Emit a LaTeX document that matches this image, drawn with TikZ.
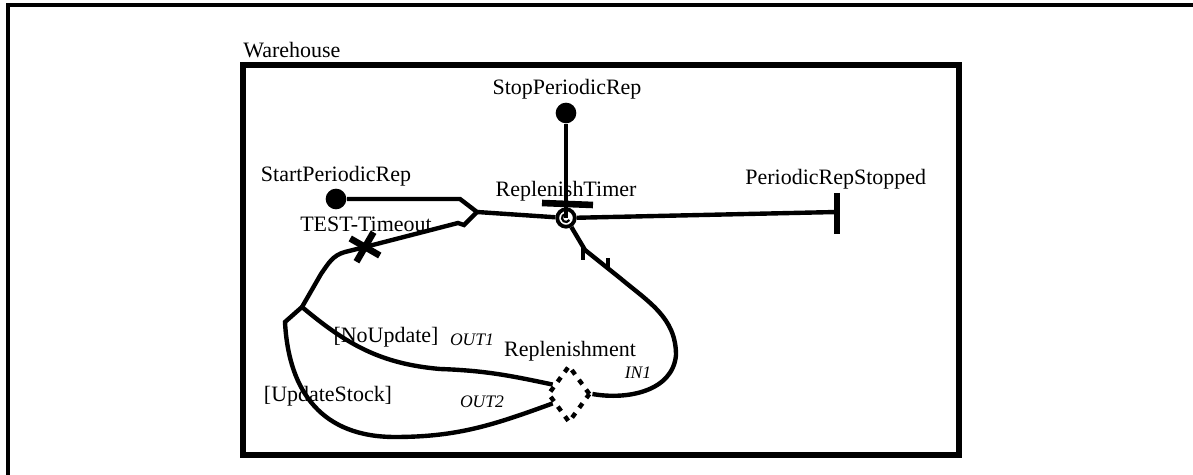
\documentclass[tikz,border=0pt]{standalone}
\usepackage{fontspec}
\setmainfont{Liberation Serif}
\usetikzlibrary{shapes.geometric,shapes.misc}
\begin{document}
\begin{tikzpicture}[x=1.6cm, y=1.6cm,
    wire/.style={line width=2pt},
    dot/.style={circle, fill, inner sep=0pt, minimum size=0.33cm},
    timerring/.style={circle, draw, line width=1.7pt, inner sep=0pt, minimum size=0.28cm},
    repbox/.style={diamond, draw, line width=2pt, dash pattern=on 2.5pt off 3pt, inner sep=0pt, minimum width=0.68cm, minimum height=0.92cm},
    crossmark/.style={cross out, draw, line width=3pt, inner sep=0pt, minimum size=0.28cm},
    lbl/.style={anchor=base, inner sep=0pt},
    port/.style={anchor=base, inner sep=0pt, font=\footnotesize\itshape}]
      \useasboundingbox (0,0) rectangle (11.93,-4.75);
      \draw[line width=1.5pt] (0.08,-4.75) -- (0.08,-0.05) -- (11.93,-0.05);
      \draw[line width=2.4pt] (2.43,-0.65) rectangle (9.59,-4.55);
      \node[lbl, anchor=base west] (warehouse) at (2.43,-0.58) {Warehouse};
      \node[dot] (stopdot) at (5.66,-1.13) {};
      \node[dot] (startdot) at (3.36,-1.99) {};
      \node[timerring] (timer) at (5.66,-2.18) {};
      \node[repbox] (rep) at (5.69,-3.94) {};
      \node[crossmark, rotate=15] (timeout) at (3.65,-2.47) {};
      \coordinate (B) at (4.60,-1.99);
      \coordinate (J) at (4.77,-2.12);
      \coordinate (K_1) at (4.64,-2.25);
      \coordinate (K_2) at (4.58,-2.23);
      \coordinate (L) at (3.45,-2.52);
      \coordinate (M) at (3.21,-2.74);
      \coordinate (S) at (3.02,-3.07);
      \coordinate (F) at (2.85,-3.22);
      \coordinate (N) at (4.40,-3.69);
      \coordinate (U) at (3.95,-4.37);
      \coordinate (P_1) at (5.85,-2.50);
      \coordinate (P_2) at (6.20,-2.78);
      \coordinate (Q) at (6.76,-3.55);
      \coordinate (stopend) at (8.37,-2.12);
      \draw[wire] (startdot) -- (B) -- (J) -- (timer);
      \draw[wire] (timer) -- (stopend);
      \draw[wire] (stopdot) -- (timer.center);
      \draw[line width=1pt] ([shift={(100:0.04)}]timer.center) arc[start angle=100, end angle=330, radius=0.04];
      \draw[line width=3pt] (5.42,-2.03) -- (5.93,-2.05);
      \draw[line width=2.8pt] (8.37,-1.93) -- (8.37,-2.34);
      \draw[wire] (J) -- (K_1) -- (K_2) -- (timeout.center) -- (L) to[out=195, in=55] (M) -- (S);
      \draw[wire] (S) to[out=-40, in=175] (N) to[out=-2, in=168] (rep.150);
      \draw[wire] (S) -- (F) to[out=-87, in=180, looseness=1.15] (U) to[out=0, in=200] (rep.210);
      \draw[wire] (timer) -- (P_1) -- (P_2) to[out=-40, in=90] (Q) to[out=-95, in=-10] (rep.east);
      \draw[line width=1.6pt] (5.83,-2.45) -- (5.83,-2.60);
      \draw[line width=1.6pt] (6.08,-2.70) -- (6.08,-2.58);
      \node[lbl] (stoplbl) at (5.67,-0.95) {StopPeriodicRep};
      \node[lbl] (startlbl) at (3.36,-1.82) {StartPeriodicRep};
      \node[lbl] (timerlbl) at (5.66,-1.97) {ReplenishTimer};
      \node[lbl] (timeoutlbl) at (3.66,-2.32) {TEST-Timeout};
      \node[lbl, anchor=base west] (stoppedlbl) at (7.45,-1.85) {PeriodicRepStopped};
      \node[lbl] (noupdlbl) at (3.86,-3.43) {[NoUpdate]};
      \node[port] (out1) at (4.72,-3.46) {OUT1};
      \node[lbl] (replbl) at (5.70,-3.57) {Replenishment};
      \node[port] (in1) at (6.38,-3.79) {IN1};
      \node[lbl] (updlbl) at (3.28,-4.02) {[UpdateStock]};
      \node[port] (out2) at (4.82,-4.08) {OUT2};
    \end{tikzpicture}
\end{document}
